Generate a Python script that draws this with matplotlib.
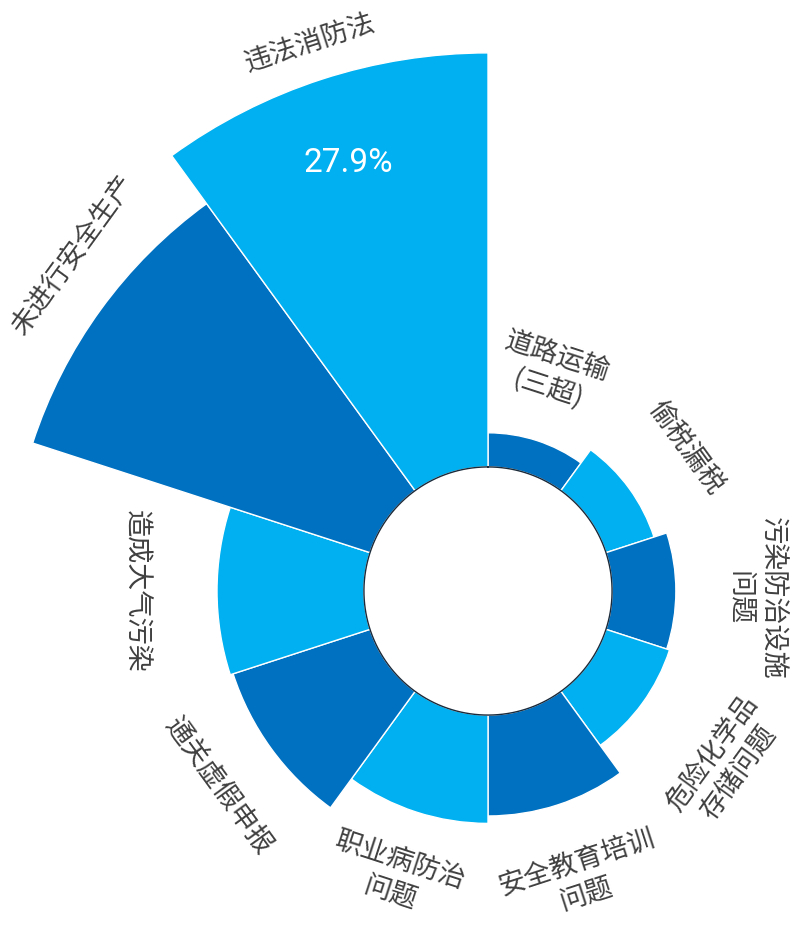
import numpy as np
import matplotlib
matplotlib.use('Agg')
import matplotlib.pyplot as plt

plt.rcParams['font.family'] = ['Noto Sans CJK SC', 'DejaVu Sans']

# categories clockwise from 12 o'clock
categories = ['道路运输\n(三超)', '偷税漏税', '污染防治设施\n问题', '危险化学品\n存储问题',
              '安全教育培训\n问题', '职业病防治\n问题', '通关虚假申报', '造成大气污染',
              '未进行安全生产', '违法消防法']
values = [2.3, 3.4, 4.3, 4.5, 6.8, 7.3, 9.7, 9.9, 23.9, 27.9]
shown_value = '27.9%'

light = '#00B0F0'
dark = '#0070C0'
colors = [dark, light] * 5

# label distance beyond each bar (value units) and small angular nudges (deg)
label_pad = [4.7, 4.6, 5.4, 6.9, 5.2, 4.6, 4.4, 5.5, 3.7, 2.5]
label_nudge = [-1.5, 0, 1.5, 0, 0, 0, 0, 0, 3.0, 0]

hole = 8.36
rmax = 40.0
px_per_unit = 14.84

W, H = 793, 932
cx, cy = 488, 932 - 591
R = rmax * px_per_unit

fig = plt.figure(figsize=(W / 100, H / 100), dpi=100)
ax = fig.add_axes([(cx - R) / W, (cy - R) / H, 2 * R / W, 2 * R / H], projection='polar')
ax.set_theta_zero_location('N')
ax.set_theta_direction(-1)

n = len(categories)
width = 2 * np.pi / n
theta = np.arange(n) * width + width / 2

ax.bar(theta, values, width=width, bottom=hole, color=colors,
       edgecolor='white', linewidth=1.0, align='center')

# inner hole outline
t = np.linspace(0, 2 * np.pi, 500)
ax.plot(t, np.full_like(t, hole), color='#1a2a3a', linewidth=1.0)

for th, lab, v, pad, nd in zip(theta, categories, values, label_pad, label_nudge):
    deg = np.degrees(th)
    rot = ((-deg + 90) % 180) - 90
    ax.text(th + np.radians(nd), hole + v + pad, lab, rotation=rot, rotation_mode='anchor',
            ha='center', va='center', multialignment='center',
            fontsize=19.5, color='#404040', linespacing=1.3, clip_on=False)

# value label on the largest bar
i_max = int(np.argmax(values))
ax.text(theta[i_max], hole + values[i_max] - 5.9, shown_value, ha='center', va='center',
        fontsize=24, color='white', family=['Roboto', 'DejaVu Sans'])

ax.set_ylim(0, rmax)
ax.set_axis_off()

fig.savefig('out.png', dpi=100)
